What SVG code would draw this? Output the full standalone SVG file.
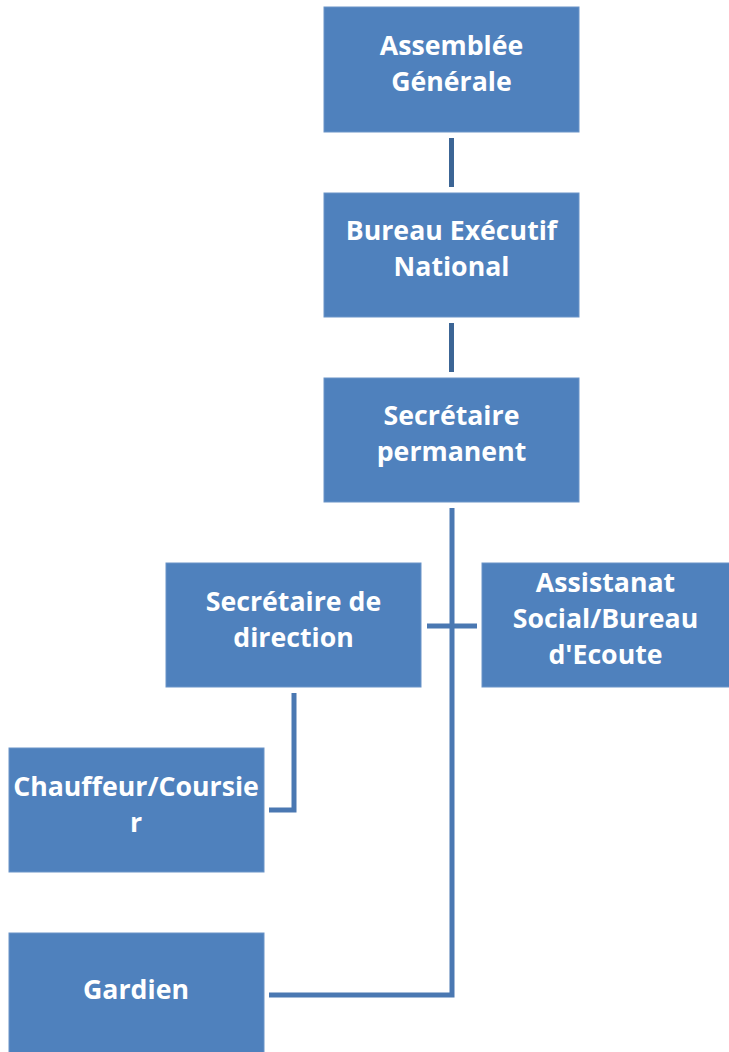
<svg xmlns="http://www.w3.org/2000/svg" width="729" height="1052" viewBox="0 0 729 1052">
<style>
.box{fill:#4f81bd;stroke:#6a94c8;stroke-width:1}
.t{font-family:"Open Sans","Liberation Sans",sans-serif;font-weight:bold;font-size:26.7px;fill:#ffffff;text-anchor:middle}
.c{fill:none;stroke:#4a78b2;stroke-width:5}
.cd{fill:none;stroke:#3c6595;stroke-width:5}
</style>
<rect width="729" height="1052" fill="#ffffff"/>
<g id="connectors">
<line class="cd" x1="451.5" y1="138" x2="451.5" y2="187"/>
<line class="cd" x1="451.5" y1="323" x2="451.5" y2="372"/>
<polyline class="c" points="452,508 452,995 269,995"/>
<line class="c" x1="427" y1="626" x2="477" y2="626"/>
<polyline class="c" points="294,693 294,810 269,810"/>
</g>
<g id="assemblee">
<rect class="box" x="324" y="7" width="255" height="125"/>
<text class="t" x="451.5" y="55">Assemblée</text>
<text class="t" x="451.5" y="91">Générale</text>
</g>
<g id="bureau">
<rect class="box" x="324" y="193" width="255" height="124"/>
<text class="t" x="451.5" y="240">Bureau Exécutif</text>
<text class="t" x="451.5" y="276">National</text>
</g>
<g id="secretaire-permanent">
<rect class="box" x="324" y="378" width="255" height="124"/>
<text class="t" x="451.5" y="425">Secrétaire</text>
<text class="t" x="451.5" y="461">permanent</text>
</g>
<g id="secretaire-direction">
<rect class="box" x="166" y="563" width="255" height="124"/>
<text class="t" x="293.5" y="611">Secrétaire de</text>
<text class="t" x="293.5" y="647">direction</text>
</g>
<g id="assistanat">
<rect class="box" x="482" y="563" width="248" height="124"/>
<text class="t" x="605.5" y="592">Assistanat</text>
<text class="t" x="605.5" y="628">Social/Bureau</text>
<text class="t" x="605.5" y="664">d'Ecoute</text>
</g>
<g id="chauffeur">
<rect class="box" x="9" y="748" width="255" height="124"/>
<text class="t" x="136" y="796">Chauffeur/Coursie</text>
<text class="t" x="136" y="832">r</text>
</g>
<g id="gardien">
<rect class="box" x="9" y="933" width="255" height="124"/>
<text class="t" x="136" y="999">Gardien</text>
</g>
</svg>
